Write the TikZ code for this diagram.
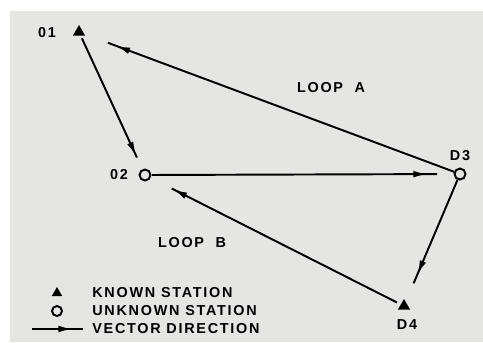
\documentclass[tikz,border=0pt]{standalone}
\usepackage{fontspec}
\setmainfont[LetterSpace=12]{Liberation Sans}
\usepackage{tikz}
\usetikzlibrary{arrows.meta, calc, shapes.geometric, decorations.markings}
\definecolor{sheet}{HTML}{E5E6E1}
\tikzset{
    knownStn/.style={regular polygon, regular polygon sides=3, fill=black, inner sep=0pt, minimum size=0.28cm},
    unknownStn/.style={circle, draw=black, fill=sheet, line width=1.1pt, inner sep=0pt, minimum size=0.22cm},
    stnLabel/.style={font=\fontsize{8.2}{9}\selectfont\bfseries, inner sep=0pt},
    vec/.style={line width=1.1pt, decoration={markings, mark=at position #1 with {\arrow{Latex[length=8pt,width=3.8pt]}}}, postaction={decorate}}
}

\begin{document}
\begin{tikzpicture}[x=0.02cm, y=-0.02cm]
    \useasboundingbox (0,0) rectangle (483,342);
    \fill[white] (0,0) rectangle (483,342);
    \fill[sheet] (10,11) rectangle (483,342);
    % --- Stations ---
    \node[knownStn] (o1) at (79,32) {};
    \node[unknownStn] (o2) at (145,175) {};
    \node[unknownStn] (o3) at (460,174) {};
    \node[knownStn] (o4) at (404,306) {};
    \node[stnLabel] (o1lab) at (47,33) {01};
    \node[stnLabel] (o2lab) at (119,175) {02};
    \node[stnLabel] (o3lab) at (460,156) {D3};
    \node[stnLabel] (o4lab) at (407,325) {D4};
    % --- Vectors ---
    \draw[vec=-1pt] ($(o1)!4pt!(o2)$) -- ($(o2)!11pt!(o1)$);
    \draw[vec=-5pt] ($(o3)!3.5pt!(o1)$) -- ($(o1)!17.5pt!(o3)$);
    \draw[vec=-5.5pt] ($(o2)!4pt!(o3)$) -- ($(o3)!13pt!(o2)$);
    \draw[vec=-5.5pt] ($(o3)!3.5pt!(o4)$) -- ($(o4)!14pt!(o3)$);
    \draw[vec=-1pt] ($(o4)!4.5pt!(o2)$) -- ($(o2)!17pt!(o4)$);
    % --- Loops ---
    \node[stnLabel] (loopa) at (331,88) {LOOP\ \ A};
    \node[stnLabel] (loopb) at (192,243) {LOOP\ \ B};
    % --- Legend ---
    \node[knownStn, minimum size=0.24cm] (keyknown) at (57,293) {};
    \node[unknownStn, minimum size=0.2cm] (keyunknown) at (57,311) {};
    \coordinate (keyvecA) at (32,329);
    \coordinate (keyvecB) at (83,329);
    \draw[vec=-6pt] (keyvecA) -- (keyvecB);
    \node[stnLabel, anchor=west] (keyknowntxt) at (92,293) {KNOWN STATION};
    \node[stnLabel, anchor=west] (keyunknowntxt) at (92,311) {UNKNOWN STATION};
    \node[stnLabel, anchor=west] (keyvectxt) at (92,329) {VECTOR DIRECTION};
\end{tikzpicture}
\end{document}
